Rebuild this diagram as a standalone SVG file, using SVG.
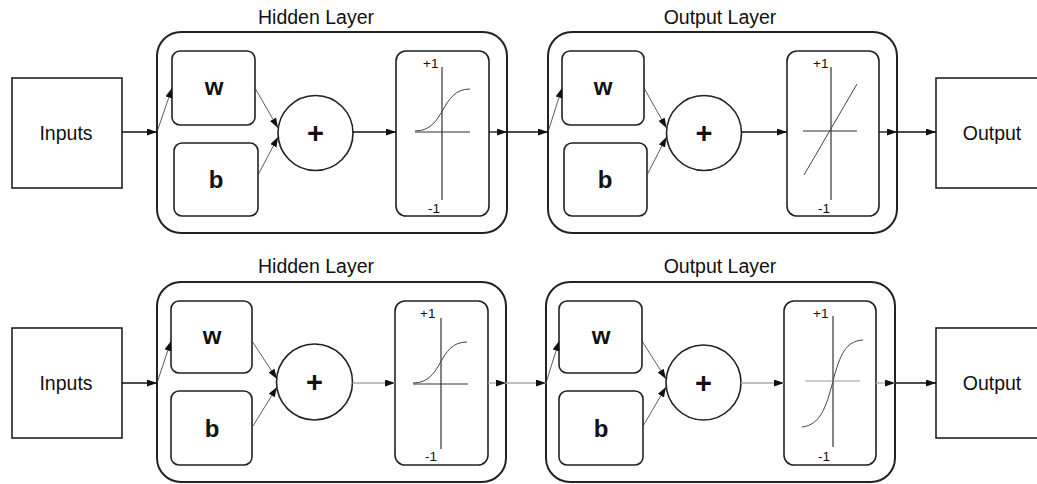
<svg xmlns="http://www.w3.org/2000/svg" width="1037" height="484" viewBox="0 0 1037 484">
  <style>
    .bg { fill: #ffffff; }
    .io { fill: #ffffff; stroke: #222; stroke-width: 1.6; }
    .layer { fill: none; stroke: #222; stroke-width: 2; }
    .param { fill: #ffffff; stroke: #222; stroke-width: 1.6; }
    .sum { fill: #ffffff; stroke: #222; stroke-width: 1.6; }
    .act { fill: #ffffff; stroke: #222; stroke-width: 1.6; }
    .axis { stroke: #333; stroke-width: 1.2; fill: none; }
    .axis-soft { stroke: #999; stroke-width: 1.2; fill: none; }
    .curve { stroke: #444; stroke-width: 1; fill: none; }
    .link { stroke: #111; stroke-width: 1.3; fill: none; marker-end: url(#arrow); }
    .link-soft { stroke: #aaa; stroke-width: 1.3; fill: none; marker-end: url(#arrow); }
    .thin { stroke: #333; stroke-width: 0.8; fill: none; marker-end: url(#arrow); }
    .lbl { font-family: "Liberation Sans", Arial, sans-serif; font-size: 19.5px; fill: #111; text-anchor: middle; }
    .title { font-family: "Liberation Sans", Arial, sans-serif; font-size: 19.5px; fill: #111; text-anchor: middle; }
    .bold { font-family: "Liberation Sans", Arial, sans-serif; font-size: 24px; font-weight: bold; fill: #111; text-anchor: middle; }
    .plus { font-family: "Liberation Sans", Arial, sans-serif; font-size: 29px; font-weight: bold; fill: #111; text-anchor: middle; }
    .tick { font-family: "Liberation Sans", Arial, sans-serif; font-size: 13.5px; fill: #111; }
  </style>
  <defs>
    <marker id="arrow" markerUnits="userSpaceOnUse" markerWidth="11" markerHeight="8" refX="10" refY="3.5" orient="auto">
      <path d="M0,0 L10,3.5 L0,7 z" fill="#111"/>
    </marker>
  </defs>

  <rect class="bg" x="0" y="0" width="1037" height="484"/>

  <!-- ===== Top network: sigmoid hidden layer, linear output ===== -->
  <g id="top-inputs">
    <rect class="io" x="12" y="78" width="110" height="110"/>
    <text class="lbl" x="66" y="140">Inputs</text>
  </g>

  <g id="top-hidden-layer">
    <text class="title" x="316" y="24">Hidden Layer</text>
    <rect class="layer" x="157" y="32" width="350" height="201" rx="24"/>
  </g>
  <g id="top-hidden-w">
    <rect class="param" x="172" y="51" width="83" height="74" rx="8"/>
    <text class="bold" x="214" y="95">w</text>
  </g>
  <g id="top-hidden-b">
    <rect class="param" x="174" y="143" width="84" height="73" rx="8"/>
    <text class="bold" x="216" y="188">b</text>
  </g>
  <g id="top-hidden-sum">
    <circle class="sum" cx="315.5" cy="133" r="37.5"/>
    <text class="plus" x="315.5" y="143">+</text>
  </g>
  <g id="top-hidden-act">
    <rect class="act" x="396" y="51" width="93" height="165" rx="10"/>
    <line class="axis" x1="442" y1="67" x2="442" y2="200"/>
    <line class="axis" x1="415" y1="132" x2="470" y2="132"/>
    <path class="curve" d="M415,131 C446,131 440,89 470,89"/>
    <text class="tick" x="423" y="68">+1</text>
    <text class="tick" x="428" y="213">-1</text>
  </g>

  <g id="top-output-layer">
    <text class="title" x="720" y="24">Output Layer</text>
    <rect class="layer" x="548" y="32" width="349" height="201" rx="24"/>
  </g>
  <g id="top-output-w">
    <rect class="param" x="562" y="51" width="82" height="74" rx="8"/>
    <text class="bold" x="603" y="95">w</text>
  </g>
  <g id="top-output-b">
    <rect class="param" x="564" y="143" width="83" height="73" rx="8"/>
    <text class="bold" x="605" y="188">b</text>
  </g>
  <g id="top-output-sum">
    <circle class="sum" cx="704" cy="133" r="37.5"/>
    <text class="plus" x="704" y="143">+</text>
  </g>
  <g id="top-output-act">
    <rect class="act" x="787" y="51" width="92" height="165" rx="10"/>
    <line class="axis" x1="831" y1="67" x2="831" y2="200"/>
    <line class="axis" x1="803" y1="131" x2="857" y2="131"/>
    <line class="curve" x1="804" y1="175" x2="857" y2="84"/>
    <text class="tick" x="813" y="68">+1</text>
    <text class="tick" x="818" y="213">-1</text>
  </g>

  <g id="top-output">
    <rect class="io" x="936" y="78" width="120" height="110"/>
    <text class="lbl" x="992" y="140">Output</text>
  </g>

  <!-- ===== Bottom network: sigmoid hidden layer, tanh output ===== -->
  <g id="bottom-inputs">
    <rect class="io" x="12" y="328" width="110" height="110"/>
    <text class="lbl" x="66" y="390">Inputs</text>
  </g>

  <g id="bottom-hidden-layer">
    <text class="title" x="316" y="273">Hidden Layer</text>
    <rect class="layer" x="157" y="282" width="349" height="200" rx="24"/>
  </g>
  <g id="bottom-hidden-w">
    <rect class="param" x="171" y="301" width="81" height="72" rx="8"/>
    <text class="bold" x="212" y="344">w</text>
  </g>
  <g id="bottom-hidden-b">
    <rect class="param" x="171" y="391" width="81" height="74" rx="8"/>
    <text class="bold" x="212" y="437">b</text>
  </g>
  <g id="bottom-hidden-sum">
    <circle class="sum" cx="314.5" cy="382" r="38"/>
    <text class="plus" x="314.5" y="392">+</text>
  </g>
  <g id="bottom-hidden-act">
    <rect class="act" x="395" y="301" width="93" height="164" rx="10"/>
    <line class="axis" x1="441" y1="318" x2="441" y2="449"/>
    <line class="axis" x1="413" y1="384" x2="468" y2="384"/>
    <path class="curve" d="M413,383 C444,383 437,342 467,342"/>
    <text class="tick" x="420" y="318">+1</text>
    <text class="tick" x="425" y="461">-1</text>
  </g>

  <g id="bottom-output-layer">
    <text class="title" x="720" y="273">Output Layer</text>
    <rect class="layer" x="546" y="282" width="349" height="200" rx="24"/>
  </g>
  <g id="bottom-output-w">
    <rect class="param" x="559" y="301" width="83" height="72" rx="8"/>
    <text class="bold" x="601" y="344">w</text>
  </g>
  <g id="bottom-output-b">
    <rect class="param" x="559" y="391" width="84" height="74" rx="8"/>
    <text class="bold" x="601" y="437">b</text>
  </g>
  <g id="bottom-output-sum">
    <circle class="sum" cx="703.5" cy="382.5" r="37.5"/>
    <text class="plus" x="703.5" y="392.5">+</text>
  </g>
  <g id="bottom-output-act">
    <rect class="act" x="784" y="301" width="92" height="164" rx="10"/>
    <line class="axis" x1="833" y1="316" x2="833" y2="447"/>
    <line class="axis-soft" x1="805" y1="381" x2="860" y2="381"/>
    <path class="curve" d="M802,427 C820,425 826,408 833,381 C840,354 846,341 863,340"/>
    <text class="tick" x="813" y="318">+1</text>
    <text class="tick" x="818" y="461">-1</text>
  </g>

  <g id="bottom-output">
    <rect class="io" x="936" y="328" width="120" height="110"/>
    <text class="lbl" x="992" y="390">Output</text>
  </g>

  <!-- ===== Connectors ===== -->
  <g id="connectors">
    <!-- top network -->
    <line class="link" x1="122" y1="132" x2="157" y2="132"/>
    <line class="thin" x1="157" y1="132" x2="172" y2="88"/>
    <line class="thin" x1="255" y1="88" x2="278" y2="128"/>
    <line class="thin" x1="258" y1="175" x2="278" y2="137"/>
    <line class="link" x1="353" y1="132" x2="396" y2="132"/>
    <line class="link" x1="489" y1="132" x2="507" y2="132"/>
    <line class="link" x1="507" y1="132" x2="548" y2="132"/>
    <line class="thin" x1="548" y1="132" x2="562" y2="88"/>
    <line class="thin" x1="644" y1="88" x2="666.5" y2="128"/>
    <line class="thin" x1="647" y1="175" x2="666.5" y2="137"/>
    <line class="link" x1="741.5" y1="132" x2="787" y2="132"/>
    <line class="link" x1="879" y1="132" x2="897" y2="132"/>
    <line class="link" x1="897" y1="132" x2="936" y2="132"/>

    <!-- bottom network -->
    <line class="link" x1="122" y1="383" x2="157" y2="383"/>
    <line class="thin" x1="157" y1="383" x2="171" y2="341"/>
    <line class="thin" x1="252" y1="341" x2="277" y2="379"/>
    <line class="thin" x1="253" y1="426" x2="277" y2="387"/>
    <line class="link-soft" x1="352.5" y1="383" x2="395" y2="383"/>
    <line class="link-soft" x1="488" y1="383" x2="506" y2="383"/>
    <line class="link-soft" x1="506" y1="383" x2="546" y2="383"/>
    <line class="thin" x1="546" y1="383" x2="559" y2="341"/>
    <line class="thin" x1="642" y1="341" x2="666" y2="379"/>
    <line class="thin" x1="643" y1="426" x2="666" y2="387"/>
    <line class="link-soft" x1="741" y1="383" x2="784" y2="383"/>
    <line class="link-soft" x1="876" y1="383" x2="895" y2="383"/>
    <line class="link" x1="895" y1="383" x2="936" y2="383"/>
  </g>
</svg>
